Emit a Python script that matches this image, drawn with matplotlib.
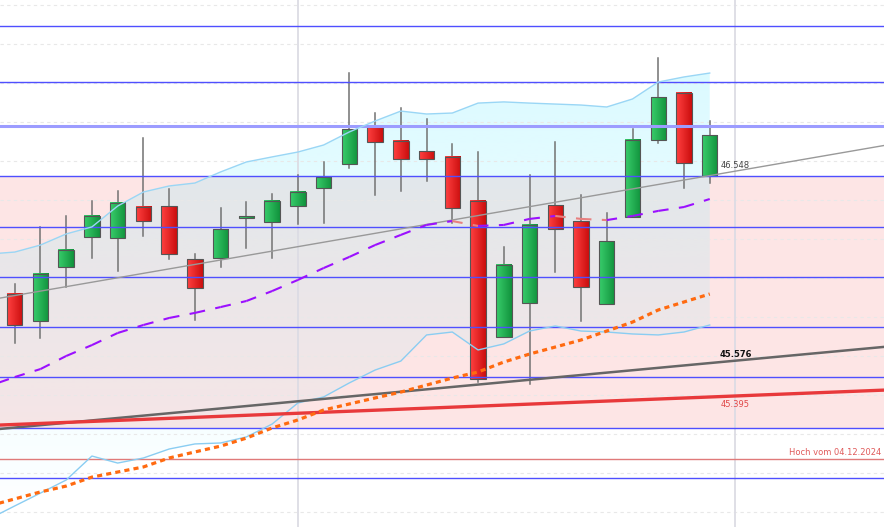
import numpy as np
import matplotlib
matplotlib.use("Agg")
import matplotlib.pyplot as plt
from matplotlib.collections import LineCollection

# candle data (index 0..27)
opens  = [45.918, 45.779, 46.056, 46.210, 46.205, 46.364, 46.369, 46.097, 46.103, 46.308,
          46.287, 46.369, 46.462, 46.585, 46.774, 46.703, 46.651, 46.621, 46.395, 45.697,
          45.872, 46.374, 46.292, 45.867, 46.313, 46.708, 46.949, 46.523]
highs  = [45.969, 46.262, 46.318, 46.395, 46.446, 46.718, 46.456, 46.123, 46.359, 46.390,
          46.431, 46.528, 46.595, 47.051, 46.846, 46.872, 46.815, 46.687, 46.646, 46.159,
          46.528, 46.697, 46.426, 46.333, 46.764, 47.128, 46.949, 46.805]
lows   = [45.667, 45.692, 45.954, 46.103, 46.036, 46.215, 46.097, 45.785, 46.056, 46.154,
          46.103, 46.277, 46.282, 46.564, 46.426, 46.446, 46.497, 46.282, 45.467, 45.697,
          45.456, 46.031, 45.779, 45.867, 46.313, 46.692, 46.462, 46.487]
closes = [45.759, 46.021, 46.144, 46.318, 46.385, 46.292, 46.123, 45.949, 46.251, 46.318,
          46.395, 46.441, 46.518, 46.764, 46.697, 46.610, 46.610, 46.359, 45.482, 46.067,
          46.272, 46.251, 45.954, 46.190, 46.708, 46.928, 46.590, 46.733]

# indicator lines, index -1..27
ind_x = list(range(-1, 28))
bb_upper = [46.123, 46.133, 46.169, 46.226, 46.262, 46.369, 46.441, 46.472, 46.487, 46.544,
            46.595, 46.621, 46.646, 46.682, 46.749, 46.805, 46.856, 46.841, 46.846, 46.897,
            46.903, 46.897, 46.892, 46.887, 46.877, 46.918, 47.005, 47.031, 47.051]
bb_lower = [44.764, 44.831, 44.897, 44.964, 45.087, 45.051, 45.077, 45.123, 45.149, 45.154,
            45.185, 45.251, 45.359, 45.390, 45.462, 45.528, 45.574, 45.708, 45.723, 45.631,
            45.662, 45.728, 45.754, 45.728, 45.723, 45.713, 45.708, 45.723, 45.759]
ma_short = [45.446, 45.492, 45.533, 45.600, 45.656, 45.718, 45.759, 45.795, 45.821, 45.851,
            45.882, 45.933, 45.990, 46.051, 46.108, 46.169, 46.221, 46.272, 46.292, 46.267,
            46.272, 46.303, 46.318, 46.303, 46.297, 46.318, 46.344, 46.364, 46.405]
ma_long = [44.831, 44.867, 44.903, 44.933, 44.979, 45.005, 45.031, 45.077, 45.108, 45.138,
           45.179, 45.231, 45.272, 45.323, 45.354, 45.385, 45.415, 45.451, 45.487, 45.518,
           45.569, 45.610, 45.646, 45.682, 45.728, 45.774, 45.836, 45.877, 45.918]

# horizontal levels and zone
blue_levels = [47.292, 47.005, 46.523, 46.262, 46.005, 45.749, 45.492, 45.231, 44.974]
blue_double = 46.779
zone = (45.231, 46.523)
hoch_level = 45.072
hoch_label = "Hoch vom 04.12.2024"

# trend lines: (index, value) pairs
trend_x = [-0.571, 28]
trend_thin = [45.897, 46.548]
trend_dark = [45.226, 45.576]
trend_red = [45.246, 45.395]

xmin, xmax = -0.571, 33.77
ymin, ymax = 44.7231, 47.4256

fig = plt.figure(figsize=(8.84, 5.27), dpi=100)
ax = fig.add_axes([0, 0, 1, 1])
ax.set_axis_off()

# pink zone
ax.axhspan(zone[0], zone[1], color="#fde5e5", lw=0, zorder=1)

# bollinger fill with vertical gradient
poly = ax.fill_between(ind_x, bb_lower, bb_upper, facecolor="none", lw=0, zorder=2)
grad = np.zeros((256, 1, 4))
grad[..., 0] = 140 / 255
grad[..., 1] = 240 / 255
grad[..., 2] = 1.0
grad[:, 0, 3] = np.linspace(0.36, 0.0, 256)
im = ax.imshow(grad, extent=[xmin, xmax, ymin, ymax], origin="upper",
               aspect="auto", zorder=2, interpolation="bilinear")
im.set_clip_path(poly.get_paths()[0], transform=ax.transData)

# dashed grid
for g in np.arange(44.8, 47.5, 0.2):
    ax.axhline(g, color="#e8e8e8", lw=0.8, ls=(0, (3, 3)), zorder=2.5)

ax.axvline(11, color="#dcdce4", lw=1.3, zorder=2.5)
ax.axvline(28, color="#dcdce4", lw=1.3, zorder=2.5)

# candles
w = 0.6
for i in range(len(opens)):
    o, h, l, c = opens[i], highs[i], lows[i], closes[i]
    ax.plot([i, i], [l, h], color="#727272", lw=1.1, zorder=3)
    lo, hi = min(o, c), max(o, c)
    if hi - lo < 0.008:
        hi = lo + 0.008
    if c >= o:
        cols = np.array([[0.22, 0.80, 0.42], [0.07, 0.58, 0.24]])
    else:
        cols = np.array([[1.0, 0.25, 0.25], [0.80, 0.06, 0.06]])
    t = np.linspace(0, 1, 16)[:, None]
    row = cols[0] * (1 - t) + cols[1] * t
    ax.imshow(row[None, :, :], extent=[i - w / 2, i + w / 2, lo, hi],
              aspect="auto", zorder=3.2, interpolation="bilinear")
    ax.add_patch(plt.Rectangle((i - w / 2, lo), w, hi - lo, fill=False,
                               ec="#555555", lw=0.8, zorder=3.3))

# horizontal blue lines
for lv in blue_levels:
    ax.axhline(lv, color="#4f4fff", lw=1.0, zorder=4)
ax.axhline(blue_double, color="#9c9cff", lw=2.2, zorder=4)
ax.axhline(hoch_level, color="#e07a7a", lw=1.0, zorder=4)

# bollinger lines
ax.plot(ind_x, bb_upper, color="#9ad6f5", lw=1.0, zorder=4.5)
ax.plot(ind_x, bb_lower, color="#8acdf2", lw=1.0, zorder=4.5)

# trend lines
def extend(y):
    k = (y[1] - y[0]) / (trend_x[1] - trend_x[0])
    return [y[0], y[0] + k * (xmax - trend_x[0])]

ax.plot([xmin, xmax], extend(trend_thin), color="#999999", lw=1.0, zorder=5)
ax.plot([xmin, xmax], extend(trend_dark), color="#666666", lw=1.8, zorder=5)
ax.plot([xmin, xmax], extend(trend_red), color="#e8393b", lw=2.4, zorder=5)

# moving averages
segs, cols = [], []
for k in range(len(ind_x) - 1):
    segs.append([(ind_x[k], ma_short[k]), (ind_x[k + 1], ma_short[k + 1])])
    cols.append("#9b10ff" if ma_short[k + 1] >= ma_short[k] else "#e88080")
ax.add_collection(LineCollection(segs, colors=cols, linewidths=1.5,
                                 linestyles=[(0, (5, 5))], zorder=6))
ax.plot(ind_x, ma_long, color="#ff6a10", lw=2.3, ls=(0, (1.6, 1.3)), zorder=6)

# labels
ax.text(28, 46.579, "46.548", ha="center", va="center", fontsize=6, color="#444444", zorder=7)
ax.text(28, 45.610, "45.576", ha="center", va="center", fontsize=6, color="#111111",
        fontweight="bold", zorder=7)
ax.text(28, 45.349, "45.395", ha="center", va="center", fontsize=6, color="#e04848", zorder=7)
ax.text(33.66, 45.104, hoch_label, ha="right", va="center", fontsize=6, color="#e05a5a", zorder=7)

ax.set_xlim(xmin, xmax)
ax.set_ylim(ymin, ymax)
fig.savefig("out.png", dpi=100)
